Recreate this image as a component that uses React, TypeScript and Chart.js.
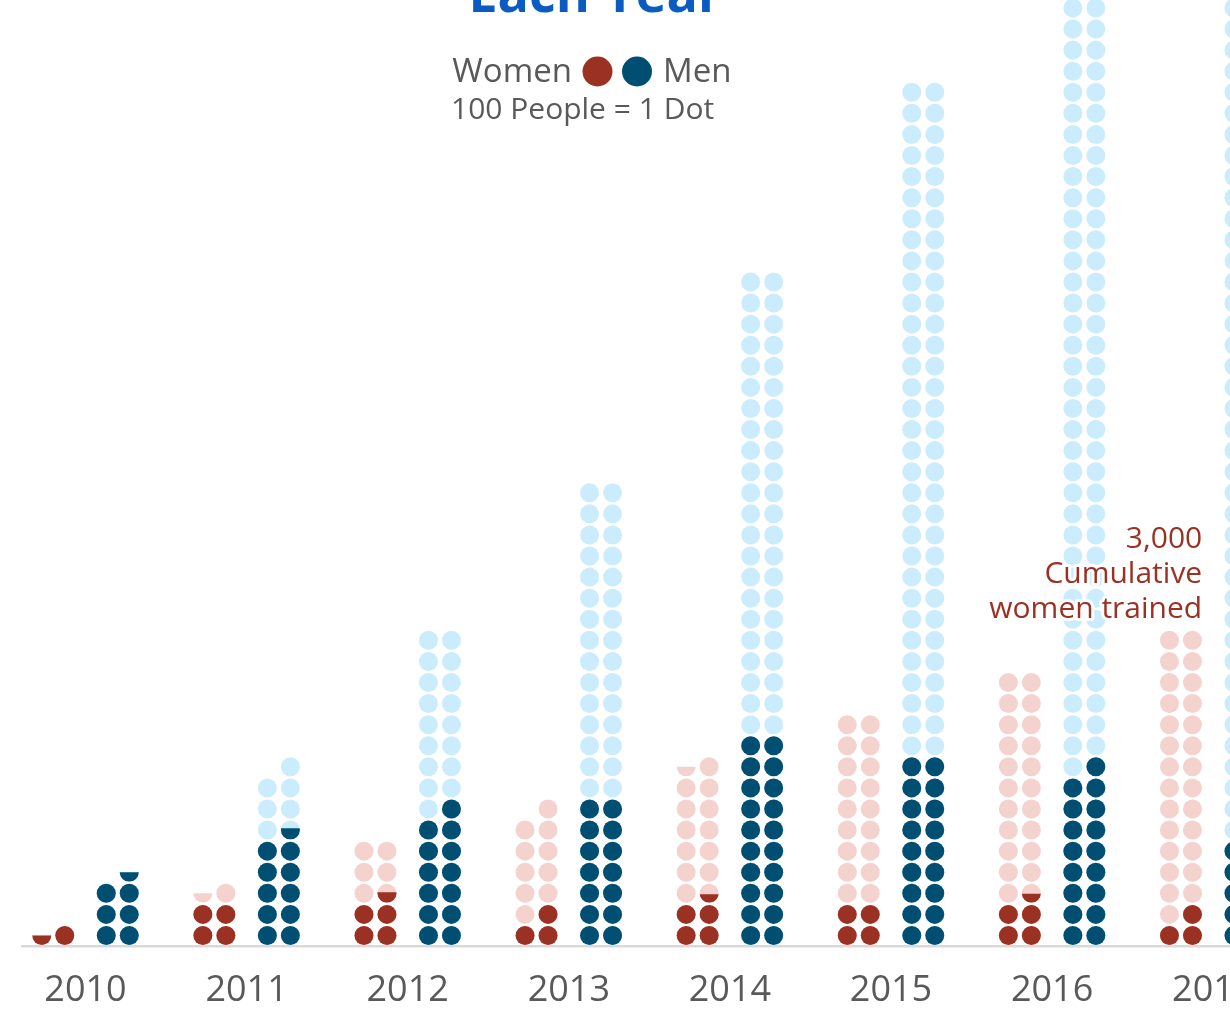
import React, { useEffect, useRef } from "react";
import { Chart, registerables } from "chart.js";

Chart.register(...registerables);

// ---------- data (people; 100 people = 1 dot) ----------
const years = ["2010", "2011", "2012", "2013", "2014", "2015", "2016", "2017"];
const womenAnnual = [150, 400, 455, 300, 445, 400, 447, 300];
const womenCumulative = [150, 550, 1000, 1300, 1750, 2200, 2600, 3000];
const menAnnual = [650, 1060, 1300, 1400, 2000, 1800, 1700, 1000];
const menCumulative = [650, 1700, 3000, 4400, 6400, 8200, 9900, 10900];
const peoplePerDot = 100;

const titleText = "Each Year";
const legendWomen = "Women";
const legendMen = "Men";
const legendScale = "100 People = 1 Dot";
const annotationTail = ["Cumulative", "women trained"];

// ---------- styles ----------
const FONT = "'Open Sans', 'Noto Sans', sans-serif";
const GREY = "#595959";
const WOMEN_DARK = "#9b3122";
const WOMEN_LIGHT = "#f4d2ce";
const MEN_DARK = "#004f73";
const MEN_LIGHT = "#cbecfd";
const TITLE_BLUE = "#0b5cc1";
const DOT_R = 9.5;
const COL_GAP = 23; // px between the two dot columns of a series
const SIDE_GAP = 41.5; // px between women right column and men left column

type DotDS = {
  label: string;
  data: { x: number; y: number }[];
  side: "women" | "men";
  color: string;
  pointRadius: number;
  showLine: boolean;
};

function mk(label: string, values: number[], side: "women" | "men", color: string): DotDS {
  return {
    label,
    data: values.map((v, i) => ({ x: i, y: v })),
    side,
    color,
    pointRadius: 0,
    showLine: false,
  };
}

const dotPlugin = {
  id: "dotColumns",
  afterDatasetsDraw(chart: any) {
    const { ctx } = chart;
    const xs = chart.scales.x;
    const ys = chart.scales.y;
    const half = SIDE_GAP / 2;
    chart.data.datasets.forEach((ds: any) => {
      const offs =
        ds.side === "women" ? [-(half + COL_GAP), -half] : [half, half + COL_GAP];
      ds.data.forEach((pt: any) => {
        const dots = pt.y / peoplePerDot;
        const n = Math.ceil(dots - 1e-9);
        const base = xs.getPixelForValue(pt.x);
        for (let k = 0; k < n; k++) {
          const frac = Math.min(1, dots - k);
          if (frac <= 0.001) continue;
          const row = Math.floor(k / 2);
          const col = k % 2 === 0 ? 1 : 0; // right column fills first
          const cx = base + offs[col];
          const cy = ys.getPixelForValue(row + 0.5);
          ctx.save();
          ctx.fillStyle = ds.color;
          if (frac < 0.999) {
            const h = 2 * DOT_R * frac;
            ctx.beginPath();
            ctx.rect(cx - DOT_R - 1, cy + DOT_R - h, 2 * DOT_R + 2, h);
            ctx.clip();
          }
          ctx.beginPath();
          ctx.arc(cx, cy, DOT_R, 0, Math.PI * 2);
          ctx.fill();
          ctx.restore();
        }
      });
    });
  },
  afterDraw(chart: any) {
    const { ctx } = chart;
    const xs = chart.scales.x;
    const ys = chart.scales.y;
    ctx.save();
    // title (cut off at top)
    ctx.fillStyle = TITLE_BLUE;
    ctx.font = `bold 52px ${FONT}`;
    ctx.textAlign = "center";
    ctx.textBaseline = "alphabetic";
    ctx.fillText(titleText, 595, 12);

    // legend
    ctx.fillStyle = GREY;
    ctx.font = `33px ${FONT}`;
    ctx.textAlign = "right";
    ctx.fillText(legendWomen, 572, 82);
    ctx.textAlign = "left";
    ctx.fillText(legendMen, 663, 82);
    ctx.fillStyle = WOMEN_DARK;
    ctx.beginPath();
    ctx.arc(597.5, 71.5, 15, 0, Math.PI * 2);
    ctx.fill();
    ctx.fillStyle = MEN_DARK;
    ctx.beginPath();
    ctx.arc(637, 71.5, 15, 0, Math.PI * 2);
    ctx.fill();
    ctx.fillStyle = GREY;
    ctx.font = `30px ${FONT}`;
    ctx.textAlign = "left";
    ctx.fillText(legendScale, 451, 119);

    // annotation above last women column
    const last = years.length - 1;
    const lastVal = womenCumulative[last];
    const rows = Math.ceil(lastVal / peoplePerDot / 2);
    const topY = ys.getPixelForValue(rows);
    const rightX = xs.getPixelForValue(last) - 11;
    const lines = [lastVal.toLocaleString("en-US"), ...annotationTail];
    ctx.font = `30px ${FONT}`;
    ctx.textAlign = "right";
    ctx.lineJoin = "round";
    lines.forEach((t, i) => {
      const y = topY - 12 - (lines.length - 1 - i) * 35;
      ctx.strokeStyle = "#ffffff";
      ctx.lineWidth = 6;
      ctx.strokeText(t, rightX, y);
      ctx.fillStyle = WOMEN_DARK;
      ctx.fillText(t, rightX, y);
    });
    ctx.restore();
  },
};

export default function App() {
  const ref = useRef<HTMLCanvasElement | null>(null);
  useEffect(() => {
    if (!ref.current) return;
    const datasets = [
      mk("Women cumulative", womenCumulative, "women", WOMEN_LIGHT),
      mk("Women annual", womenAnnual, "women", WOMEN_DARK),
      mk("Men cumulative", menCumulative, "men", MEN_LIGHT),
      mk("Men annual", menAnnual, "men", MEN_DARK),
    ];
    const chart = new Chart(ref.current, {
      type: "scatter",
      data: { datasets: datasets as any },
      options: {
        responsive: false,
        animation: false,
        layout: { padding: { left: 22, right: 0, top: 0, bottom: 0 } },
        plugins: {
          legend: { display: false },
          tooltip: { enabled: false },
          title: { display: false },
        },
        scales: {
          x: {
            type: "linear",
            min: -0.3942,
            max: 7.1042,
            grid: { display: false, drawTicks: false },
            border: { display: true, color: "#d9d9d9", width: 2.5 },
            ticks: {
              autoSkip: false,
              maxRotation: 0,
              minRotation: 0,
              padding: 23,
              color: GREY,
              font: { family: FONT, size: 36 },
              callback: (v: any) => years[Math.round(Number(v))] ?? "",
            },
            afterBuildTicks: (s: any) => {
              s.ticks = years.map((_, i) => ({ value: i }));
            },
            afterFit: (s: any) => {
              s.height = 68;
              s.paddingLeft = 0;
              s.paddingRight = 0;
            },
          },
          y: {
            type: "linear",
            display: false,
            min: 0,
            max: 946 / 21.08,
          },
        },
      },
      plugins: [dotPlugin],
    } as any);
    return () => chart.destroy();
  }, []);
  return (
    <div
      style={{
        position: "fixed",
        left: 0,
        top: 0,
        width: 1230,
        height: 1014,
        overflow: "hidden",
        background: "#ffffff",
      }}
    >
      <canvas ref={ref} width={1230} height={1014} style={{ display: "block" }} />
    </div>
  );
}
